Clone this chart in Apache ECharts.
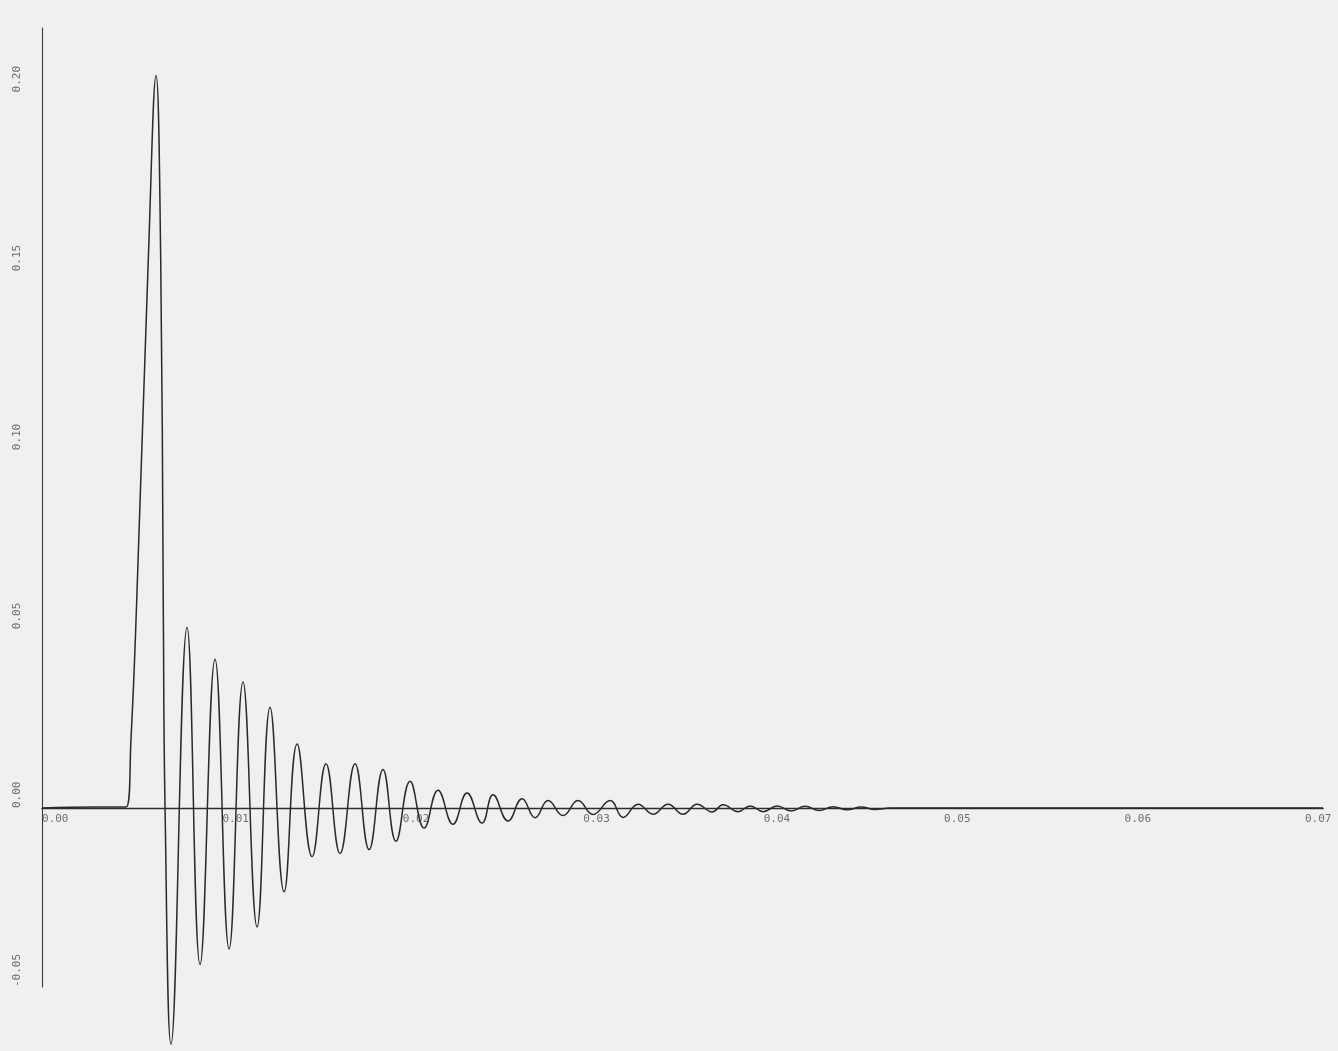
<!DOCTYPE html>
<html>
<head>
<meta charset="utf-8">
<script src="https://cdn.jsdelivr.net/npm/echarts@6/dist/echarts.min.js"></script>
<style>
html,body{margin:0;padding:0;background:#f0f0f0;}
#chart{width:1338px;height:1051px;}
</style>
</head>
<body>
<div id="chart"></div>
<script>
// time (s)
const times = [
  0, 0.00300, 0.00466, 0.00493, 0.00525, 0.00589, 0.00632, 0.00658, 0.00672, 0.00682, 0.00715,
  0.00804, 0.00876, 0.00959, 0.01037, 0.01114, 0.01192, 0.01264, 0.01342, 0.01414, 0.01497,
  0.01574, 0.01652, 0.01735, 0.01813, 0.01890, 0.01962, 0.02040, 0.02118, 0.02195, 0.02278,
  0.02356, 0.02439, 0.02500, 0.02583, 0.02661, 0.02733, 0.02805, 0.02888, 0.02971, 0.03054,
  0.03149, 0.03221, 0.03304, 0.03387, 0.03470, 0.03553, 0.03631, 0.03714, 0.03775, 0.03858,
  0.03925, 0.03997, 0.04074, 0.04152, 0.04230, 0.04307, 0.04385, 0.04462, 0.04540, 0.04618,
  0.04701, 0.05500, 0.06500, 0.07100
];
// amplitude
const values = [
  0, 0.0003, 0.0003, 0.0190, 0.0580, 0.1530, 0.2047, 0.1530, 0.0580, 0, -0.0660,
  0.0505, -0.0437, 0.0416, -0.0394, 0.0352, -0.0332, 0.0282, -0.0234, 0.0179, -0.0136,
  0.0124, -0.0127, 0.0124, -0.0116, 0.0108, -0.0093, 0.0075, -0.0056, 0.0050, -0.0045,
  0.0042, -0.0042, 0.0037, -0.0036, 0.0026, -0.0027, 0.0021, -0.0021, 0.0021, -0.0018,
  0.0021, -0.0026, 0.0011, -0.0017, 0.0011, -0.0017, 0.0011, -0.0011, 0.0009, -0.0010,
  0.0006, -0.0010, 0.0006, -0.0008, 0.0005, -0.0007, 0.0004, -0.0005, 0.0003, -0.0004,
  0, 0, 0, 0
];
const xTicks = [0, 0.01, 0.02, 0.03, 0.04, 0.05, 0.06, 0.07];
const xTickLabels = ['0.00', '0.01', '0.02', '0.03', '0.04', '0.05', '0.06', '0.07'];
const yTicks = [-0.05, 0, 0.05, 0.10, 0.15, 0.20];
const yTickLabels = ['-0.05', '0.00', '0.05', '0.10', '0.15', '0.20'];
const yMin = -0.05, yMax = 0.218;

function pick(ticks, labels) {
  return function (v) {
    const i = ticks.findIndex(t => Math.abs(t - v) < 1e-9);
    return i < 0 ? '' : labels[i];
  };
}

const H = 1051, gridTop = 28, gridBottom = 64;
const plotH = H - gridTop - gridBottom;
// shift the x axis (line + labels) up from the grid bottom to the zero level
const zeroShift = -plotH * (0 - yMin) / (yMax - yMin);

const chart = echarts.init(document.getElementById('chart'), null, {renderer: 'canvas'});
chart.setOption({
  backgroundColor: '#f0f0f0',
  animation: false,
  grid: {left: 42, right: 15, top: gridTop, bottom: gridBottom, containLabel: false},
  xAxis: {
    type: 'value', min: 0, max: 0.071, interval: 0.01,
    position: 'bottom', offset: zeroShift,
    axisLine: {onZero: false, lineStyle: {color: '#2e2e2e', width: 1.4}},
    axisTick: {show: false},
    splitLine: {show: false},
    axisLabel: {
      formatter: pick(xTicks, xTickLabels), showMaxLabel: false,
      align: 'left', margin: 6,
      fontFamily: 'DejaVu Sans Mono', fontSize: 11, color: '#6e6e6e'
    }
  },
  yAxis: {
    type: 'value', min: yMin, max: yMax, interval: 0.05,
    axisLine: {show: true, onZero: false, lineStyle: {color: '#3a3a3a', width: 1.1}},
    axisTick: {show: false},
    splitLine: {show: false},
    axisLabel: {
      formatter: pick(yTicks, yTickLabels), showMaxLabel: false,
      rotate: 90, align: 'left', verticalAlign: 'middle', margin: 25,
      fontFamily: 'DejaVu Sans Mono', fontSize: 11, color: '#6e6e6e'
    }
  },
  series: [{
    type: 'line',
    data: times.map((t, i) => [t, values[i]]),
    smooth: 0.45,
    clip: false,
    showSymbol: false,
    lineStyle: {color: '#2a2a2a', width: 1.5}
  }]
});
</script>
</body>
</html>
